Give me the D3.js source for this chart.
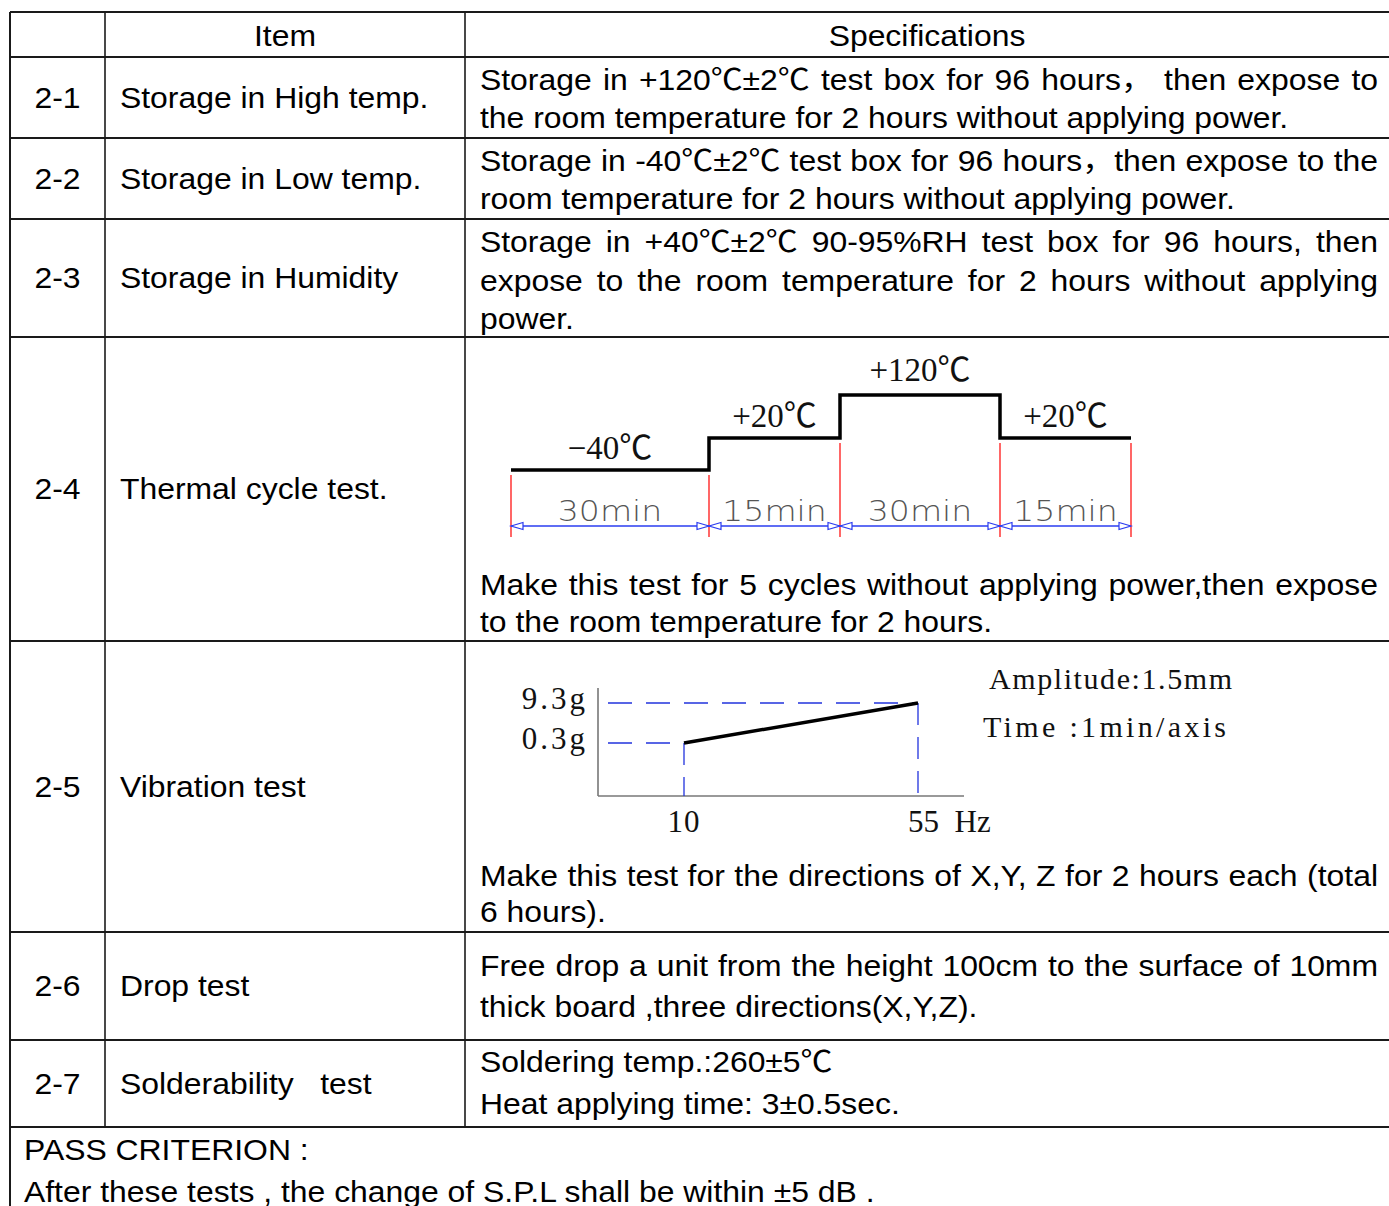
<!DOCTYPE html>
<html><head><meta charset="utf-8">
<script src="https://cdn.jsdelivr.net/npm/d3@7"></script>
<style>body{margin:0;background:#fff;}svg{display:block;}</style>
</head><body>
<svg id="c" width="1389" height="1206"></svg>
<script>
// ---------------- DATA ----------------
const headerLabels = ["Item", "Specifications"];
const rowIds = ["2-1", "2-2", "2-3", "2-4", "2-5", "2-6", "2-7"];
const rowItems = ["Storage in High temp.", "Storage in Low temp.", "Storage in Humidity",
  "Thermal cycle test.", "Vibration test", "Drop test", "Solderability\u00a0\u00a0\u00a0test"];
const spec21 = ["Storage in +120℃±2℃ test box for 96 hours， then expose to",
  "the room temperature for 2 hours without applying power."];
const spec22 = ["Storage in -40℃±2℃ test box for 96 hours，then expose to the",
  "room temperature for 2 hours without applying power."];
const spec23 = ["Storage in +40℃±2℃ 90-95%RH test box for 96 hours, then",
  "expose to the room temperature for 2 hours without applying",
  "power."];
const spec24 = ["Make this test for 5 cycles without applying power,then expose",
  "to the room temperature for 2 hours."];
const spec25 = ["Make this test for the directions of X,Y, Z for 2 hours each (total",
  "6 hours)."];
const spec26 = ["Free drop a unit from the height 100cm to the surface of 10mm",
  "thick board ,three directions(X,Y,Z)."];
const spec27 = ["Soldering temp.:260±5℃", "Heat applying time: 3±0.5sec."];
const passLines = ["PASS CRITERION :", "After these tests , the change of S.P.L shall be within ±5 dB ."];

// thermal cycle
const thermalLabels = ["−40℃", "+20℃", "+120℃", "+20℃"];
const thermalTemps = [-40, 20, 120, 20];
const thermalMinutes = [30, 15, 30, 15];
const durationLabels = ["30min", "15min", "30min", "15min"];

// vibration
const vibFreqLabels = ["10", "55"];
const vibFreq = [10, 55];
const vibAccelLabels = ["0.3g", "9.3g"];
const vibAccel = [0.3, 9.3];
const vibNotes = ["Amplitude:1.5mm", "Time :1min/axis"];

// ---------------- LAYOUT ----------------
const W = 1389, H = 1206;
const colX = [10, 105, 465, 1392];
const rowY = [12, 57, 138, 219, 337, 641, 932, 1040, 1127];
const SANS = "'Liberation Sans', Arial, 'Noto Sans CJK SC', sans-serif";
const SERIF = "'Liberation Serif', 'Times New Roman', 'Noto Sans CJK SC', serif";
const CAD = "'DejaVu Sans', 'Liberation Sans', sans-serif";
const FS = 29, SX = 1.1;
const specLeft = 480, specRight = 1378;

const svg = d3.select("#c");
svg.append("rect").attr("width", W).attr("height", H).attr("fill", "#fff");

function sText(g, str, x, y, o = {}) {
  const t = g.append("text")
    .attr("transform", `translate(${x},${y}) scale(${SX},1)`)
    .attr("font-family", SANS).attr("font-size", FS).attr("fill", "#000")
    .style("white-space", "pre")
    .text(str);
  if (o.anchor) t.attr("text-anchor", o.anchor);
  if (o.justify) {
    const nat = t.node().getComputedTextLength();
    const target = o.justify / SX;
    const n = (str.match(/ /g) || []).length;
    if (n) t.style("word-spacing", ((target - nat) / n) + "px");
  }
  return t;
}

// ---------- grid ----------
const grid = svg.append("g").attr("stroke", "#1a1a1a").attr("fill", "none");
rowY.forEach(y => grid.append("line").attr("x1", colX[0]).attr("x2", W + 5).attr("y1", y).attr("y2", y).attr("stroke-width", 2.2));
grid.append("line").attr("x1", colX[0]).attr("x2", colX[0]).attr("y1", rowY[0]).attr("y2", H + 5).attr("stroke-width", 2);
[colX[1], colX[2]].forEach(x => grid.append("line").attr("x1", x).attr("x2", x).attr("y1", rowY[0]).attr("y2", rowY[rowY.length - 1]).attr("stroke-width", 1.6));

// ---------- header ----------
const txt = svg.append("g");
sText(txt, headerLabels[0], (colX[1] + colX[2]) / 2, 46, {anchor: "middle"});
sText(txt, headerLabels[1], (colX[2] + W) / 2, 46, {anchor: "middle"});

// ---------- item column ----------
rowIds.forEach((id, i) => {
  const cy = (rowY[i + 1] + rowY[i + 2]) / 2;
  sText(txt, id, (colX[0] + colX[1]) / 2, cy + 10, {anchor: "middle"});
  sText(txt, rowItems[i], 120, cy + 10);
});

// ---------- specifications ----------
function specBlock(lines, firstBaseline, lh, justifyCount) {
  lines.forEach((s, k) => {
    sText(txt, s, specLeft, firstBaseline + k * lh, k < justifyCount ? {justify: specRight - specLeft} : {});
  });
}
specBlock(spec21, 90, 38, 1);
specBlock(spec22, 171, 38, 1);
specBlock(spec23, 252, 38.5, 2);
specBlock(spec24, 595, 37, 1);
specBlock(spec25, 886, 36, 1);
specBlock(spec26, 976, 41, 1);
specBlock(spec27, 1072, 42, 0);
passLines.forEach((s, k) => sText(txt, s, 24, 1160 + k * 42));

// ---------- thermal cycle diagram ----------
const cum = [0];
thermalMinutes.forEach(m => cum.push(cum[cum.length - 1] + m));
const xT = d3.scaleLinear().domain(cum).range([511, 709, 840, 1000, 1131]);
const yT = d3.scaleLinear().domain([-40, 20, 120]).range([470, 438, 395]);
const th = svg.append("g");
const stepPts = thermalTemps.map((t, i) => [cum[i], t]).concat([[cum[cum.length - 1], thermalTemps[thermalTemps.length - 1]]]);
th.append("path")
  .attr("d", d3.line().x(d => xT(d[0])).y(d => yT(d[1])).curve(d3.curveStepAfter)(stepPts))
  .attr("fill", "none").attr("stroke", "#000").attr("stroke-width", 3.5);
// red boundary lines
cum.forEach((m, i) => {
  const adj = [thermalTemps[i - 1], thermalTemps[i]].filter(v => v !== undefined);
  const low = d3.min(adj);
  th.append("line").attr("x1", xT(m)).attr("x2", xT(m))
    .attr("y1", yT(low) + 5).attr("y2", 537)
    .attr("stroke", "#f00").attr("stroke-width", 1.2);
});
// blue dimension lines with open arrows
const dimY = 526;
thermalMinutes.forEach((m, i) => {
  const a = xT(cum[i]), b = xT(cum[i + 1]);
  th.append("line").attr("x1", a).attr("x2", b).attr("y1", dimY).attr("y2", dimY)
    .attr("stroke", "#2a3cf0").attr("stroke-width", 1.3);
  th.append("path").attr("d", `M${a},${dimY}L${a + 12},${dimY - 3.5}L${a + 12},${dimY + 3.5}Z`)
    .attr("fill", "#fff").attr("stroke", "#2a3cf0").attr("stroke-width", 1.2);
  th.append("path").attr("d", `M${b},${dimY}L${b - 12},${dimY - 3.5}L${b - 12},${dimY + 3.5}Z`)
    .attr("fill", "#fff").attr("stroke", "#2a3cf0").attr("stroke-width", 1.2);
  th.append("text")
    .attr("transform", `translate(${(a + b) / 2},521) scale(1.18,1)`)
    .attr("text-anchor", "middle").attr("font-family", CAD).attr("font-weight", 200)
    .attr("font-size", 28).attr("fill", "#555").text(durationLabels[i]);
  th.append("text")
    .attr("x", (a + b) / 2).attr("y", yT(thermalTemps[i]) - (thermalTemps[i] > 100 ? 14 : 11))
    .attr("text-anchor", "middle").attr("font-family", SERIF).attr("font-size", 33)
    .attr("fill", "#111").text(thermalLabels[i]);
});

// ---------- vibration diagram ----------
const vb = svg.append("g");
const axX0 = 598, axX1 = 964, axY0 = 796, axY1 = 688;
const xV = d3.scalePoint().domain(vibFreq).range([684, 918]);
const yV = d3.scalePoint().domain(vibAccel).range([743, 703]);
vb.append("line").attr("x1", axX0).attr("x2", axX0).attr("y1", axY1).attr("y2", axY0).attr("stroke", "#777").attr("stroke-width", 1.6);
vb.append("line").attr("x1", axX0).attr("x2", axX1).attr("y1", axY0).attr("y2", axY0).attr("stroke", "#777").attr("stroke-width", 1.6);
vibFreq.forEach((f, i) => {
  const x = xV(f), y = yV(vibAccel[i]);
  vb.append("line").attr("x1", axX0).attr("x2", x).attr("y1", y).attr("y2", y)
    .attr("stroke", "#2233dd").attr("stroke-width", 1.3).attr("stroke-dasharray", "24,14")
    .attr("stroke-dashoffset", -10);
  vb.append("line").attr("x1", x).attr("x2", x).attr("y1", y).attr("y2", axY0)
    .attr("stroke", "#2233dd").attr("stroke-width", 1.3).attr("stroke-dasharray", "22,12");
  vb.append("text").attr("x", 588).attr("y", y + 6).attr("text-anchor", "end")
    .attr("font-family", SERIF).attr("font-size", 31).attr("letter-spacing", 3)
    .attr("fill", "#111").text(vibAccelLabels[i]);
});
vb.append("text").attr("x", xV(10)).attr("y", 832).attr("text-anchor", "middle")
  .attr("font-family", SERIF).attr("font-size", 31).attr("letter-spacing", 1).attr("fill", "#111").text(vibFreqLabels[0]);
vb.append("text").attr("x", xV(55) - 10).attr("y", 832)
  .attr("font-family", SERIF).attr("font-size", 31).attr("fill", "#111")
  .style("white-space", "pre").text(vibFreqLabels[1] + "  Hz");
vb.append("line").attr("x1", xV(10)).attr("y1", yV(0.3)).attr("x2", xV(55)).attr("y2", yV(9.3))
  .attr("stroke", "#000").attr("stroke-width", 3.5);
vibNotes.forEach((s, i) => {
  vb.append("text").attr("x", i === 0 ? 989 : 983).attr("y", 689 + i * 48)
    .attr("font-family", SERIF).attr("font-size", 30).attr("fill", "#111")
    .attr("textLength", 243).attr("lengthAdjust", "spacing")
    .style("white-space", "pre").text(s);
});
</script>
</body></html>
